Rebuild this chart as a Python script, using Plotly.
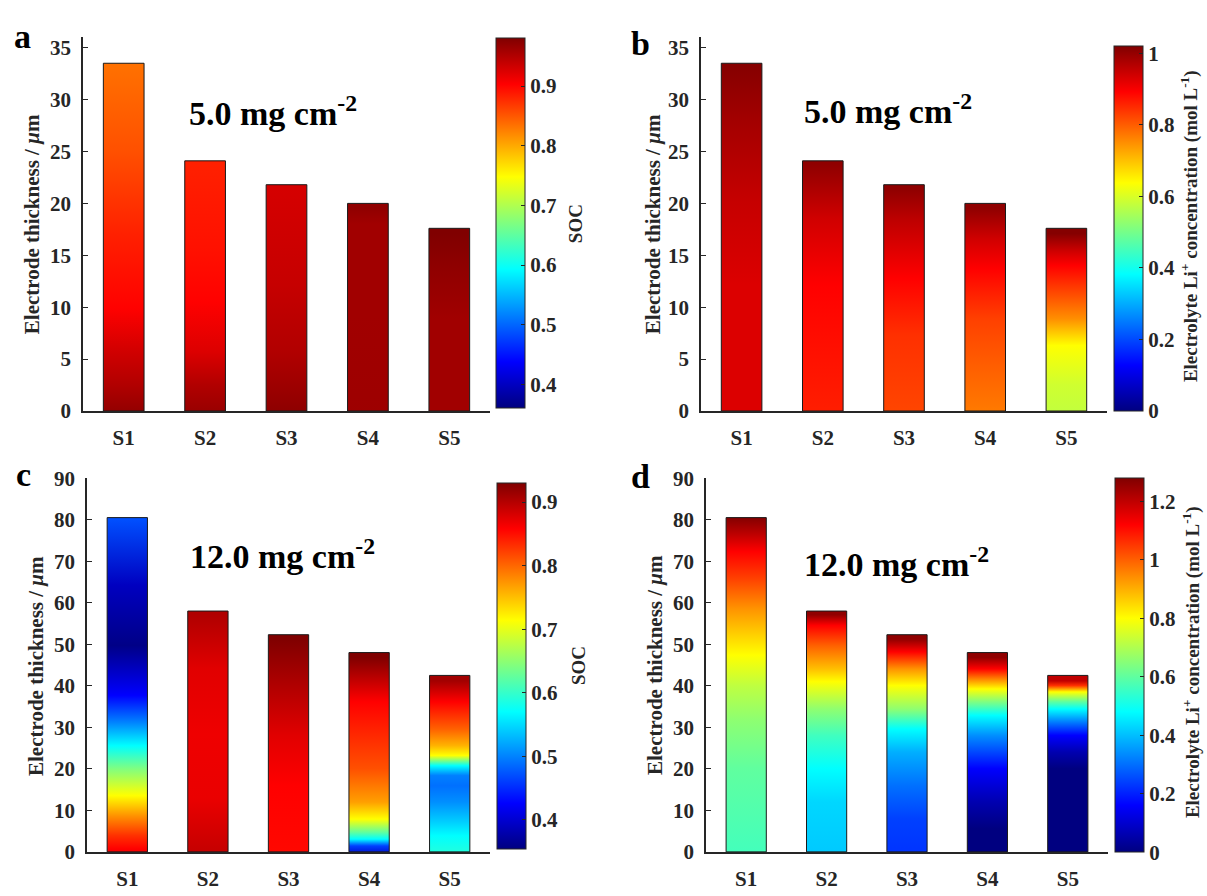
import plotly.graph_objects as go
from plotly.colors import sample_colorscale

W, H = 1207, 896

SAMPLES = ["S1", "S2", "S3", "S4", "S5"]
THICK_5 = [33.5, 24.1, 21.8, 20.0, 17.6]
THICK_12 = [80.5, 58.0, 52.3, 48.0, 42.5]

# Panel a: SOC profiles (position from current collector in um, SOC value)
A_POS = [[0, 3.4, 6.5, 10.6, 17.5, 25.3, 33.5],
         [0, 3.4, 6.5, 11.2, 15.9, 24.1],
         [0, 6.5, 12.8, 21.8],
         [0, 10.0, 18.5, 20.0],
         [0, 9.6, 14.3, 17.6]]
A_VAL = [[0.975, 0.950, 0.931, 0.902, 0.883, 0.854, 0.834],
         [0.970, 0.950, 0.924, 0.902, 0.893, 0.883],
         [0.975, 0.950, 0.937, 0.928],
         [0.962, 0.960, 0.960, 0.970],
         [0.960, 0.960, 0.970, 0.980]]

# Panel b: electrolyte Li+ concentration profiles
B_POS = [[0, 12.8, 20.6, 28.4, 33.5],
         [0, 6.5, 12.8, 19.0, 24.1],
         [0, 8.1, 13.4, 19.0, 21.8],
         [0, 4.9, 9.6, 14.3, 17.1, 20.0],
         [0, 0.3, 0.4, 3.4, 7.1, 9.6, 11.2, 14.6, 15.9, 17.6]]
B_VAL = [[0.928, 0.928, 0.950, 0.986, 1.015],
         [0.861, 0.877, 0.8925, 0.940, 1.005],
         [0.821, 0.845, 0.8925, 0.960, 1.005],
         [0.765, 0.797, 0.829, 0.8925, 0.940, 1.005],
         [0.38, 0.38, 0.574, 0.590, 0.6375, 0.750, 0.797, 0.8925, 0.940, 1.015]]

# Panel c: SOC profiles
C_POS = [[0, 3.1, 6.2, 10.9, 15.6, 21.9, 27.3, 32.9, 39.1, 50.8, 64.9, 80.5],
         [0, 15, 30, 45.3, 58.0],
         [0, 17.9, 29.7, 41.4, 52.3],
         [0, 1.5, 3.8, 5.4, 7.0, 10.1, 14.1, 21.9, 37.6, 48.0],
         [0, 0.7, 6.2, 9.4, 14.1, 17.9, 20.3, 22.6, 25.0, 27.3, 31.2, 37.6, 42.5]]
C_VAL = [[0.890, 0.858, 0.831, 0.775, 0.714, 0.642, 0.570, 0.498, 0.426, 0.358, 0.390, 0.471],
         [0.895, 0.870, 0.867, 0.875, 0.903],
         [0.853, 0.858, 0.875, 0.903, 0.930],
         [0.363, 0.390, 0.462, 0.570, 0.625, 0.714, 0.768, 0.813, 0.858, 0.930],
         [0.596, 0.596, 0.570, 0.543, 0.507, 0.489, 0.498, 0.570, 0.714, 0.757, 0.803, 0.858, 0.911]]

# Panel d: electrolyte Li+ concentration profiles
D_POS = [[0, 21.9, 33.6, 41.4, 48.5, 53.2, 59.4, 66.5, 72.8, 76.7, 80.5],
         [0, 14.1, 21.9, 29.7, 35.9, 42.3, 45.3, 50.8, 55.5, 58.0],
         [0, 10.1, 17.9, 25.8, 31.2, 35.9, 41.4, 45.3, 49.3, 52.3],
         [0, 7.8, 14.1, 21.9, 29.7, 34.4, 37.6, 40.6, 43.0, 45.3, 48.0],
         [0, 21.9, 25.8, 29.7, 32.9, 35.9, 37.6, 39.9, 41.4, 42.5]]
D_VAL = [[0.56, 0.60, 0.66, 0.72, 0.80, 0.858, 0.935, 1.04, 1.12, 1.20, 1.27],
         [0.41, 0.43, 0.48, 0.56, 0.66, 0.80, 0.88, 1.00, 1.12, 1.26],
         [0.22, 0.24, 0.30, 0.38, 0.48, 0.66, 0.80, 0.935, 1.12, 1.26],
         [0.00, 0.00, 0.06, 0.16, 0.34, 0.48, 0.64, 0.80, 0.96, 1.12, 1.26],
         [0.00, 0.00, 0.06, 0.16, 0.32, 0.48, 0.60, 0.80, 1.06, 1.20]]

CB_RANGE = {"a": (0.36, 0.98), "b": (0.0, 1.02), "c": (0.354, 0.93), "d": (0.0, 1.28)}
CB_TICKS = {"a": [0.4, 0.5, 0.6, 0.7, 0.8, 0.9],
            "b": [0, 0.2, 0.4, 0.6, 0.8, 1.0],
            "c": [0.4, 0.5, 0.6, 0.7, 0.8, 0.9],
            "d": [0, 0.2, 0.4, 0.6, 0.8, 1.0, 1.2]}
CB_TICKTEXT = {"a": ["0.4", "0.5", "0.6", "0.7", "0.8", "0.9"],
               "b": ["0", "0.2", "0.4", "0.6", "0.8", "1"],
               "c": ["0.4", "0.5", "0.6", "0.7", "0.8", "0.9"],
               "d": ["0", "0.2", "0.4", "0.6", "0.8", "1", "1.2"]}
CB_TITLE = {"a": "SOC", "b": "Electrolyte Li<sup>+</sup> concentration (mol L<sup>-1</sup>)",
            "c": "SOC", "d": "Electrolyte Li<sup>+</sup> concentration (mol L<sup>-1</sup>)"}
LOADING = {"a": "5.0 mg cm<sup>-2</sup>", "b": "5.0 mg cm<sup>-2</sup>",
           "c": "12.0 mg cm<sup>-2</sup>", "d": "12.0 mg cm<sup>-2</sup>"}

JET = [[0.0, "rgb(0,0,128)"], [0.125, "rgb(0,0,255)"], [0.375, "rgb(0,255,255)"],
       [0.625, "rgb(255,255,0)"], [0.875, "rgb(255,0,0)"], [1.0, "rgb(128,0,0)"]]

FONT = "Liberation Serif, Times New Roman, serif"
INK = "#262626"
BAR_W = 0.5

# layout geometry (pixels)
GEOM = {
    "a": dict(ax="", x0=83, x1=490, top=26, bot=410, ymax=36, dtick=5,
              cb_left=496, cb_top=27, cb_bot=407, lab=(22, 25), ann=(187, 102),
              ytitle=(32, 218), cbtitle=(575, 218)),
    "b": dict(ax="2", x0=701, x1=1107, top=26, bot=410, ymax=36, dtick=5,
              cb_left=1114, cb_top=35, cb_bot=410, lab=(640, 32), ann=(802, 100),
              ytitle=(653, 218), cbtitle=(1189, 220)),
    "c": dict(ax="3", x0=87, x1=490, top=479, bot=863, ymax=90, dtick=10,
              cb_left=497, cb_top=484, cb_bot=860, lab=(23, 475), ann=(188, 557),
              ytitle=(36, 672), cbtitle=(578, 672)),
    "d": dict(ax="4", x0=706, x1=1108, top=479, bot=863, ymax=90, dtick=10,
              cb_left=1115, cb_top=479, cb_bot=863, lab=(640, 477), ann=(802, 565),
              ytitle=(655, 671), cbtitle=(1191, 668)),
}

PANELS = {"a": (THICK_5, A_POS, A_VAL), "b": (THICK_5, B_POS, B_VAL),
          "c": (THICK_12, C_POS, C_VAL), "d": (THICK_12, D_POS, D_VAL)}

fig = go.Figure()
annotations = []

for key, (thick, poss, vals) in PANELS.items():
    g = GEOM[key]
    xa, ya = "x" + g["ax"], "y" + g["ax"]
    cmin, cmax = CB_RANGE[key]
    for i, (h, pos, val) in enumerate(zip(thick, poss, vals)):
        c = i + 1
        norm = [min(max((v - cmin) / (cmax - cmin), 0.0), 1.0) for v in val]
        cols = sample_colorscale(JET, norm, colortype="rgb")
        grad = [[p / h, col] for p, col in zip(pos, cols)]
        grad[0][0] = 0.0
        grad[-1][0] = 1.0
        fig.add_trace(go.Scatter(
            x=[c - BAR_W / 2, c + BAR_W / 2, c + BAR_W / 2, c - BAR_W / 2, c - BAR_W / 2],
            y=[0, 0, h, h, 0],
            mode="lines", fill="toself",
            fillgradient=dict(type="vertical", colorscale=grad, start=0, stop=h),
            line=dict(color="#1a1a1a", width=1),
            xaxis=xa, yaxis=ya, showlegend=False, hoverinfo="skip"))
    # colorbar carrier
    fig.add_trace(go.Scatter(
        x=[1], y=[0], mode="markers", xaxis=xa, yaxis=ya, showlegend=False,
        hoverinfo="skip",
        marker=dict(size=1, opacity=0, color=[cmin], colorscale=JET, cmin=cmin, cmax=cmax,
                    showscale=True,
                    colorbar=dict(
                        x=g["cb_left"] / W, xanchor="left", y=1 - g["cb_top"] / H, yanchor="top",
                        len=(g["cb_bot"] - g["cb_top"]) / H, lenmode="fraction",
                        thickness=29, thicknessmode="pixels", xpad=0, ypad=0,
                        outlinewidth=1, outlinecolor=INK,
                        ticks="inside", ticklen=4, tickcolor=INK,
                        tickvals=CB_TICKS[key], ticktext=CB_TICKTEXT[key],
                        tickfont=dict(family=FONT, size=21, color=INK, weight="bold"),
                    ))))
    ax_common = dict(showgrid=False, zeroline=False, showline=True, linecolor=INK, linewidth=1.5)
    fig.update_layout(**{
        ("xaxis" + g["ax"]): dict(
            domain=[g["x0"] / W, g["x1"] / W], anchor=ya, range=[0.5, 5.5],
            tickvals=[1, 2, 3, 4, 5], ticktext=SAMPLES, ticks="", ticklabelstandoff=7,
            tickfont=dict(family=FONT, size=21, color=INK, weight="bold"), **ax_common),
        ("yaxis" + g["ax"]): dict(
            domain=[1 - g["bot"] / H, 1 - g["top"] / H], anchor=xa, range=[0, g["ymax"]],
            dtick=g["dtick"], ticks="inside", ticklen=5, tickcolor=INK, ticklabelstandoff=6,
            tickfont=dict(family=FONT, size=21, color=INK, weight="bold"), **ax_common),
    })
    annotations += [
        dict(text=key, x=g["lab"][0] / W, y=1 - g["lab"][1] / H, xref="paper", yref="paper",
             xanchor="center", yanchor="middle", showarrow=False,
             font=dict(family=FONT, size=34, color="black", weight="bold")),
        dict(text=LOADING[key], x=g["ann"][0] / W, y=1 - g["ann"][1] / H, xref="paper", yref="paper",
             xanchor="left", yanchor="middle", showarrow=False,
             font=dict(family=FONT, size=34, color="black", weight="bold")),
        dict(text="Electrode thickness / <i>μ</i>m", x=g["ytitle"][0] / W, y=1 - g["ytitle"][1] / H,
             xref="paper", yref="paper", xanchor="center", yanchor="middle", showarrow=False,
             textangle=-90, font=dict(family=FONT, size=21, color=INK, weight="bold")),
        dict(text=CB_TITLE[key], x=g["cbtitle"][0] / W, y=1 - g["cbtitle"][1] / H,
             xref="paper", yref="paper", xanchor="center", yanchor="middle", showarrow=False,
             textangle=-90, font=dict(family=FONT, size=19, color=INK, weight="bold")),
    ]

fig.update_layout(width=W, height=H, autosize=False, margin=dict(l=0, r=0, t=0, b=0),
                  paper_bgcolor="white", plot_bgcolor="white", annotations=annotations,
                  showlegend=False)

fig.write_html("out.html")
